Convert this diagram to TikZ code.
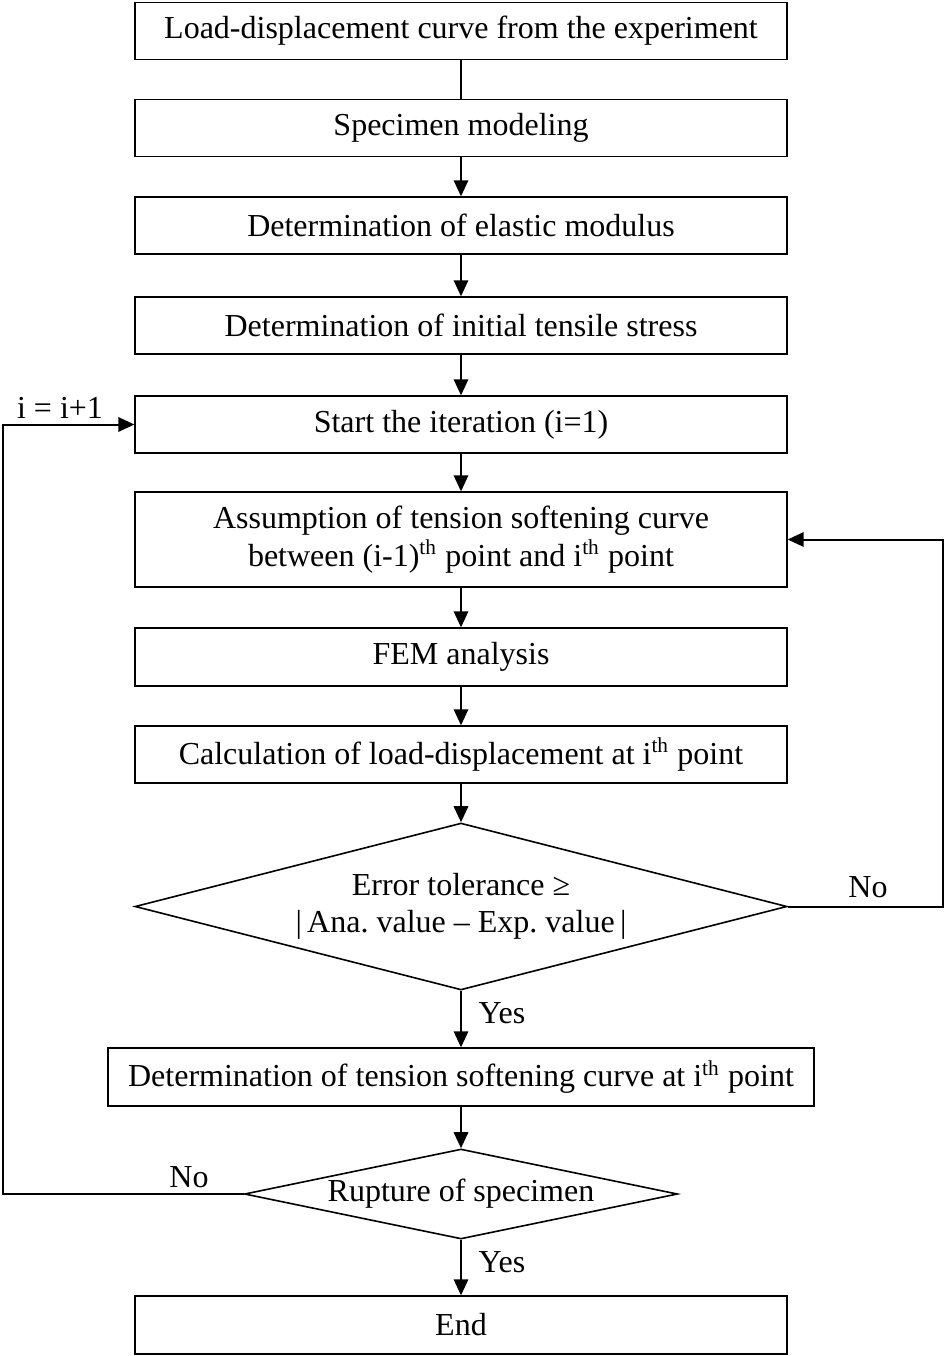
\documentclass[tikz,border=0pt]{standalone}
\usepackage{fontspec}
\setmainfont{Liberation Serif}
\usetikzlibrary{shapes.geometric,arrows.meta}

\tikzset{
  stepbox/.style={draw, line width=0.5pt, minimum width=244.5pt, minimum height=21.4pt,
    inner sep=0pt, align=center, font=\fontsize{12}{14}\selectfont},
  decision/.style={draw, diamond, line width=0.6pt, inner sep=0pt, align=center,
    font=\fontsize{12}{14}\selectfont},
  flow/.style={line width=0.75pt, -{Triangle[length=6pt,width=5.4pt]}},
  tag/.style={inner sep=0pt, font=\fontsize{12}{14}\selectfont},
}

\begin{document}
\begin{tikzpicture}[x=0.375pt, y=-0.375pt]

% Frame of the picture
\useasboundingbox (0,0) rectangle (945,1356);

% Process steps, top to bottom
\node[stepbox] (load) at (461,31) {Load-displacement curve from the experiment};
\node[stepbox] (model) at (461,128) {Specimen modeling};
\node[stepbox] (elastic) at (461,225.5) {Determination of elastic modulus};
\node[stepbox] (initial) at (461,325.5) {Determination of initial tensile stress};
\node[stepbox] (start) at (461,424.5) {Start the iteration (i=1)};
\node[stepbox, minimum height=35.6pt] (assume) at (461,539.5)
  {Assumption of tension softening curve\\between (i-1)\textsuperscript{th} point and i\textsuperscript{th} point};
\node[stepbox, minimum height=21.75pt] (fem) at (461,657) {FEM analysis};
\node[stepbox] (calc) at (461,754.5) {Calculation of load-displacement at i\textsuperscript{th} point};
\node[decision, aspect=3.9, minimum width=244.5pt, minimum height=62.6pt] (err) at (461,906.5)
  {Error tolerance ≥\\|\,Ana.\ value -- Exp.\ value\,|};
\node[stepbox, minimum width=264.75pt, minimum height=21.75pt] (det) at (461,1077)
  {Determination of tension softening curve at i\textsuperscript{th} point};
\node[decision, aspect=4.8, minimum width=162.4pt, minimum height=33.75pt] (rup) at (461,1194) {Rupture of specimen};
\node[stepbox, minimum height=21.75pt] (end) at (461,1325) {End};

% Corners of the two loops
\coordinate (R1) at (943,906.5);
\coordinate (R2) at (943,539.5);
\coordinate (L1) at (3,1194);
\coordinate (L2) at (3,424.5);

% Main flow
\draw[line width=0.75pt] (load) -- (model);
\foreach \a/\b in {model/elastic, elastic/initial, initial/start, start/assume,
                   assume/fem, fem/calc, calc/err, err/det, det/rup, rup/end} {
    \draw[flow] (\a) -- (\b);
}

% Loop back when the error is too large
\draw[flow] (err.east) -- (R1) -- (R2) -- (assume.east);
% Next point of the iteration
\draw[flow] (rup.west) -- (L1) -- (L2) -- (start.west);

% Branch labels
\node[tag] (noerr) at (868,887) {No};
\node[tag] (yeserr) at (502,1013) {Yes};
\node[tag] (norup) at (189,1177) {No};
\node[tag] (yesrup) at (502,1262) {Yes};
\node[tag] (incr) at (60,408) {i = i+1};

\end{tikzpicture}
\end{document}
